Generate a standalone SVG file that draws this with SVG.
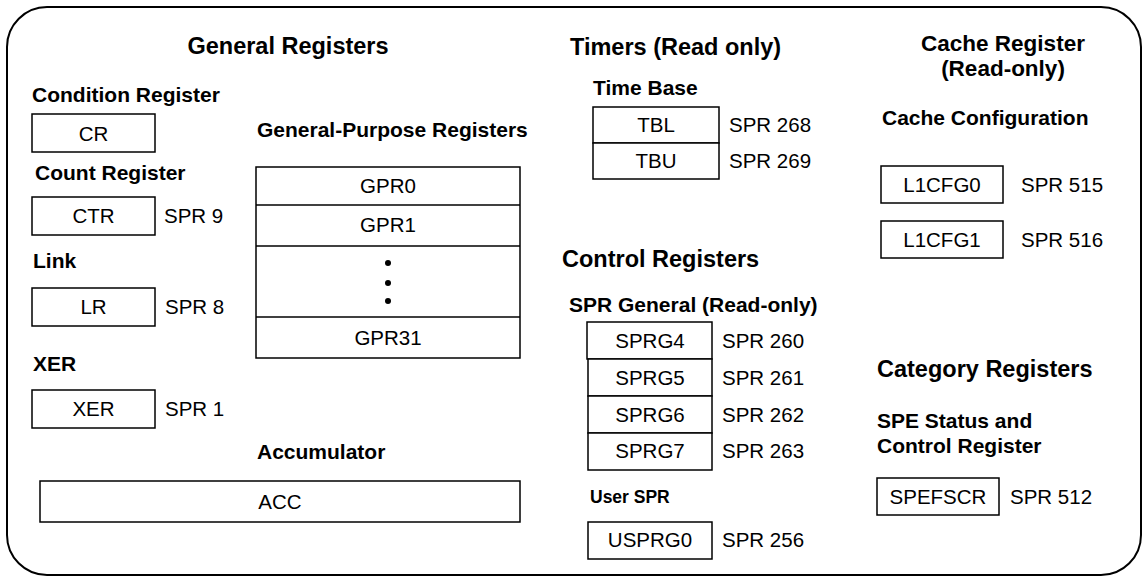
<svg xmlns="http://www.w3.org/2000/svg" width="1148" height="581" viewBox="0 0 1148 581">
<style>
text{font-family:"Liberation Sans",Arial,sans-serif;fill:#000}
.h{font-size:23.5px;font-weight:bold}
.h2{font-size:22.5px;font-weight:bold}
.s{font-size:21px;font-weight:bold}
.u{font-size:17.5px;font-weight:bold}
.t{font-size:20.5px}
.c{text-anchor:middle}
.b{fill:#fff;stroke:#000;stroke-width:1.5}
.f{fill:none;stroke:#000;stroke-width:2}
</style>
<rect id="frame" class="f" x="7" y="7" width="1134" height="568" rx="40" ry="40"/>
<g id="headings">
<text class="h c" x="288" y="54">General Registers</text>
<text class="h" x="570" y="55">Timers (Read only)</text>
<text class="h2 c" x="1003" y="51">Cache Register</text>
<text class="h2 c" x="1003" y="76">(Read-only)</text>
<text class="h" x="562" y="267">Control Registers</text>
<text class="h" x="877" y="377">Category Registers</text>
</g>
<g id="cr">
<text class="s" x="32" y="102">Condition Register</text>
<rect class="b" x="32" y="114" width="123" height="38"/>
<text class="t c" x="93.5" y="140.5">CR</text>
</g>
<g id="ctr">
<text class="s" x="35" y="180">Count Register</text>
<rect class="b" x="32" y="197" width="123" height="38"/>
<text class="t c" x="93.5" y="223">CTR</text>
<text class="t" x="164" y="223">SPR 9</text>
</g>
<g id="lr">
<text class="s" x="33" y="268">Link</text>
<rect class="b" x="32" y="288" width="123" height="38"/>
<text class="t c" x="93.5" y="314">LR</text>
<text class="t" x="165" y="314">SPR 8</text>
</g>
<g id="xer">
<text class="s" x="33" y="371">XER</text>
<rect class="b" x="32" y="390" width="123" height="38"/>
<text class="t c" x="93.5" y="416">XER</text>
<text class="t" x="165" y="416">SPR 1</text>
</g>
<g id="gpr">
<text class="s" x="257" y="137">General-Purpose Registers</text>
<rect class="b" x="256" y="167" width="264" height="191"/>
<line class="b" x1="256" y1="205" x2="520" y2="205"/>
<line class="b" x1="256" y1="246" x2="520" y2="246"/>
<line class="b" x1="256" y1="317" x2="520" y2="317"/>
<text class="t c" x="388" y="193">GPR0</text>
<text class="t c" x="388" y="232">GPR1</text>
<circle cx="388" cy="263" r="3"/>
<circle cx="388" cy="283" r="3"/>
<circle cx="388" cy="301" r="3"/>
<text class="t c" x="388" y="345">GPR31</text>
</g>
<g id="acc">
<text class="s" x="257" y="459">Accumulator</text>
<rect class="b" x="40" y="481" width="480" height="41"/>
<text class="t c" x="280" y="509">ACC</text>
</g>
<g id="timebase">
<text class="s" x="593" y="95">Time Base</text>
<rect class="b" x="593" y="107" width="126" height="36"/>
<rect class="b" x="593" y="143" width="126" height="36"/>
<text class="t c" x="656" y="132">TBL</text>
<text class="t c" x="656" y="168">TBU</text>
<text class="t" x="729" y="132">SPR 268</text>
<text class="t" x="729" y="168">SPR 269</text>
</g>
<g id="sprg">
<text class="s" x="569" y="312">SPR General (Read-only)</text>
<rect class="b" x="587" y="322" width="125" height="37"/>
<rect class="b" x="588" y="359" width="124" height="37"/>
<rect class="b" x="588" y="396" width="124" height="37"/>
<rect class="b" x="588" y="433" width="124" height="37"/>
<text class="t c" x="650" y="348">SPRG4</text>
<text class="t c" x="650" y="385">SPRG5</text>
<text class="t c" x="650" y="422">SPRG6</text>
<text class="t c" x="650" y="458">SPRG7</text>
<text class="t" x="722" y="348">SPR 260</text>
<text class="t" x="722" y="385">SPR 261</text>
<text class="t" x="722" y="422">SPR 262</text>
<text class="t" x="722" y="458">SPR 263</text>
</g>
<g id="usprg">
<text class="u" x="590" y="503">User SPR</text>
<rect class="b" x="588" y="522" width="124" height="37"/>
<text class="t c" x="650" y="547">USPRG0</text>
<text class="t" x="722" y="547">SPR 256</text>
</g>
<g id="cache">
<text class="s" x="882" y="125">Cache Configuration</text>
<rect class="b" x="881" y="166" width="122" height="37"/>
<text class="t c" x="942" y="192">L1CFG0</text>
<text class="t" x="1021" y="192">SPR 515</text>
<rect class="b" x="881" y="221" width="122" height="37"/>
<text class="t c" x="942" y="247">L1CFG1</text>
<text class="t" x="1021" y="247">SPR 516</text>
</g>
<g id="spefscr">
<text class="s" x="877" y="428">SPE Status and</text>
<text class="s" x="877" y="453">Control Register</text>
<rect class="b" x="877" y="478" width="122" height="37"/>
<text class="t c" x="938" y="504">SPEFSCR</text>
<text class="t" x="1010" y="504">SPR 512</text>
</g>
<g id="connectors"/>
</svg>
